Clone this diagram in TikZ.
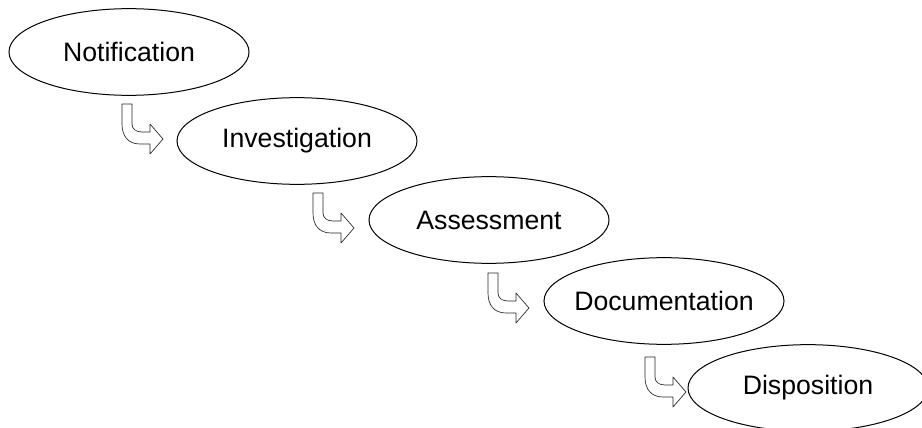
\documentclass[tikz,border=0pt]{standalone}
\usepackage{fontspec}
\setmainfont{Liberation Sans}
\usepackage{tikz}
\usetikzlibrary{shapes,positioning}
\tikzstyle{stage} = [ellipse, draw, line width=0.75pt, minimum width=180pt, minimum height=65pt, inner xsep=-10pt, inner ysep=0pt, font=\fontsize{20}{24}\selectfont]
\tikzstyle{turn} = [draw=black!85, line width=0.5pt, fill=white, line join=round]
\tikzset{bendarrow/.pic={
    \path[turn] (0,0) -- (10,0) -- (10,20) .. controls (10,25) and (14,28) .. (20,28)
        -- (28,28) -- (28,20) -- (41,35) -- (28,50) -- (28,40) -- (18,40)
        .. controls (6,40) and (0,32) .. (0,20) -- cycle;
}}

\begin{document}
\begin{tikzpicture}[x=0.75pt, y=-0.75pt]
    \useasboundingbox (0,0) rectangle (922,428);

    \node[stage] (notif)  at (129,52)  {Notification};
    \node[stage] (invest) at (297,141) {Investigation};
    \node[stage] (assess) at (489,220) {Assessment};
    \node[stage] (docu)   at (664,301) {Documentation};
    \node[stage] (dispo)  at (808,388) {Disposition};

    \pic at (122,104) {bendarrow};
    \pic at (313,193) {bendarrow};
    \pic at (488,273) {bendarrow};
    \pic at (645,357) {bendarrow};
\end{tikzpicture}
\end{document}
